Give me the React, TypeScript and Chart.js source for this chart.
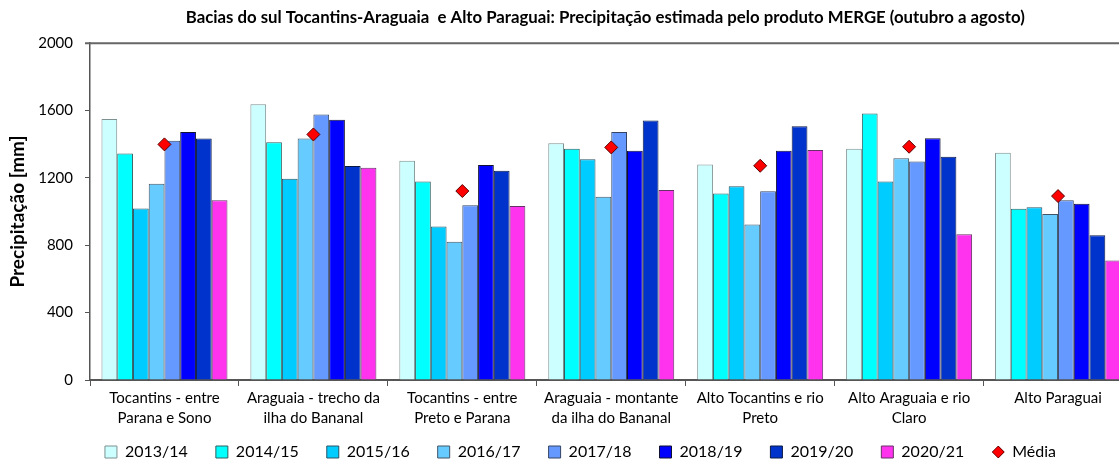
import React, { useEffect, useRef } from "react";
import { Chart, registerables } from "chart.js";

Chart.register(...registerables);

const categories: string[][] = [
  ["Tocantins - entre", "Parana e Sono"],
  ["Araguaia - trecho da", "ilha do Bananal"],
  ["Tocantins - entre", "Preto e Parana"],
  ["Araguaia - montante", "da ilha do Bananal"],
  ["Alto Tocantins e rio", "Preto"],
  ["Alto Araguaia e rio", "Claro"],
  ["Alto Paraguai"],
];

const seriesLabels = ["2013/14", "2014/15", "2015/16", "2016/17", "2017/18", "2018/19", "2019/20", "2020/21"];

const v2013_14 = [1549, 1638, 1302, 1405, 1280, 1373, 1349];
const v2014_15 = [1345, 1412, 1179, 1373, 1108, 1583, 1017];
const v2015_16 = [1019, 1195, 912, 1310, 1150, 1179, 1025];
const v2016_17 = [1165, 1434, 821, 1088, 924, 1316, 985];
const v2017_18 = [1420, 1577, 1037, 1472, 1120, 1298, 1068];
const v2018_19 = [1472, 1545, 1276, 1361, 1361, 1436, 1046];
const v2019_20 = [1434, 1270, 1242, 1541, 1507, 1325, 859];
const v2020_21 = [1068, 1260, 1033, 1128, 1365, 866, 710];
const media = [1399, 1458, 1122, 1381, 1272, 1385, 1092];

const seriesValues = [v2013_14, v2014_15, v2015_16, v2016_17, v2017_18, v2018_19, v2019_20, v2020_21];

const yTicks = [0, 400, 800, 1200, 1600, 2000];

const barColors = ["#CCFFFF", "#00FFFF", "#00CCFF", "#66CCFF", "#6699FF", "#0000FF", "#0033CC", "#FF33EE"];
const barBorders = ["#7f9090", "#2f5f5f", "#2a5566", "#405566", "#334466", "#111133", "#0a1a44", "#663366"];

const FONT = "Lato, 'Open Sans', sans-serif";
const LEGEND_CENTER_Y = 452;
const LEGEND_PADDING = 28;
const LEGEND_FONT = 16;
const LEGEND_SHIFT_X = 14;
const TITLE_SHIFT_X = -6;

function makeDiamond(): HTMLCanvasElement {
  const c = document.createElement("canvas");
  c.width = 14;
  c.height = 14;
  const ctx = c.getContext("2d")!;
  ctx.beginPath();
  ctx.moveTo(7, 1);
  ctx.lineTo(13, 7);
  ctx.lineTo(7, 13);
  ctx.lineTo(1, 7);
  ctx.closePath();
  ctx.fillStyle = "#FF0000";
  ctx.fill();
  ctx.strokeStyle = "#660000";
  ctx.lineWidth = 1;
  ctx.stroke();
  return c;
}

const layoutTweaks = {
  id: "layoutTweaks",
  afterLayout(chart: any) {
    const lg = chart.legend;
    if (lg) {
      lg.top = LEGEND_CENTER_Y - LEGEND_PADDING - LEGEND_FONT / 2;
      lg.bottom = chart.height;
      lg.height = lg.bottom - lg.top;
      lg.left += LEGEND_SHIFT_X;
      lg.right += LEGEND_SHIFT_X;
    }
    const tb = chart.titleBlock;
    if (tb) {
      tb.left += TITLE_SHIFT_X;
      tb.right += TITLE_SHIFT_X;
    }
  },
  afterDraw(chart: any) {
    const { ctx, chartArea } = chart;
    ctx.save();
    ctx.strokeStyle = "#666666";
    ctx.lineWidth = 2;
    ctx.beginPath();
    ctx.moveTo(chartArea.left - 5, chartArea.top);
    ctx.lineTo(chartArea.right, chartArea.top);
    ctx.stroke();
    ctx.restore();
  },
};

export default function App() {
  const ref = useRef<HTMLCanvasElement | null>(null);

  useEffect(() => {
    if (!ref.current) return;
    const diamond = makeDiamond();
    const datasets: any[] = seriesLabels.map((label, i) => ({
      type: "bar",
      label,
      data: seriesValues[i],
      backgroundColor: barColors[i],
      borderColor: barBorders[i],
      borderWidth: 1,
      order: 1,
      categoryPercentage: 0.846,
      barPercentage: 1,
    }));
    datasets.push({
      type: "line",
      label: "Média",
      data: media,
      showLine: false,
      pointStyle: "rectRot",
      pointRadius: 6.5,
      pointBackgroundColor: "#FF0000",
      pointBorderColor: "#550000",
      pointBorderWidth: 1,
      backgroundColor: "#FF0000",
      borderColor: "#550000",
      order: 0,
    });

    const chart = new Chart(ref.current, {
      type: "bar",
      data: { labels: categories as any, datasets },
      plugins: [layoutTweaks],
      options: {
        responsive: false,
        animation: false,
        layout: { padding: { left: 0, right: 7, top: 0, bottom: 0 } },
        plugins: {
          tooltip: { enabled: false },
          title: {
            display: true,
            text: "Bacias do sul Tocantins-Araguaia  e Alto Paraguai: Precipitação estimada pelo produto MERGE (outubro a agosto)",
            color: "#000",
            font: { family: FONT, size: 16.8, weight: "bold", lineHeight: 1.2 },
            padding: { top: 8, bottom: 15 },
            fullSize: false,
          },
          legend: {
            position: "bottom",
            maxHeight: 27,
            labels: {
              color: "#000",
              font: { family: FONT, size: LEGEND_FONT },
              boxWidth: 12,
              boxHeight: 12,
              padding: LEGEND_PADDING,
              usePointStyle: true,
              generateLabels: (c: any) => {
                const items = Chart.defaults.plugins.legend.labels.generateLabels(c);
                items.forEach((it: any) => {
                  if (it.text === "Média") {
                    it.pointStyle = diamond;
                  } else {
                    it.pointStyle = "rect";
                    it.lineWidth = 1;
                  }
                });
                items.sort((a: any, b: any) => a.datasetIndex - b.datasetIndex);
                return items;
              },
            },
          },
        },
        scales: {
          x: {
            offset: true,
            afterFit: (s: any) => {
              s.height = 52;
            },
            grid: {
              display: true,
              offset: true,
              drawOnChartArea: false,
              drawTicks: true,
              tickLength: 6,
              color: "#555",
            },
            border: { display: true, color: "#555", width: 2 },
            ticks: {
              color: "#000",
              font: { family: FONT, size: 15, lineHeight: 1.33 },
              padding: 2,
              maxRotation: 0,
              autoSkip: false,
            },
          },
          y: {
            min: 0,
            max: 2000,
            afterBuildTicks: (s: any) => {
              s.ticks = yTicks.map((v) => ({ value: v }));
            },
            afterFit: (s: any) => {
              s.width = 90;
            },
            grid: {
              display: true,
              drawOnChartArea: false,
              drawTicks: true,
              tickLength: 5,
              color: "#555",
            },
            border: { display: true, color: "#555", width: 1.5 },
            ticks: {
              color: "#000",
              font: { family: FONT, size: 15 },
              padding: 12,
              callback: (v: any) => String(v),
            },
            title: {
              display: true,
              text: "Precipitação [mm]",
              color: "#000",
              font: { family: FONT, size: 19, weight: "bold" },
              padding: { top: 6, bottom: 0 },
            },
          },
        },
      },
    });
    return () => chart.destroy();
  }, []);

  return (
    <div style={{ position: "absolute", left: 0, top: 0, width: 1119, height: 459, overflow: "hidden", background: "#fff" }}>
      <canvas ref={ref} width={1140} height={459} style={{ width: 1140, height: 459, display: "block" }} />
    </div>
  );
}
